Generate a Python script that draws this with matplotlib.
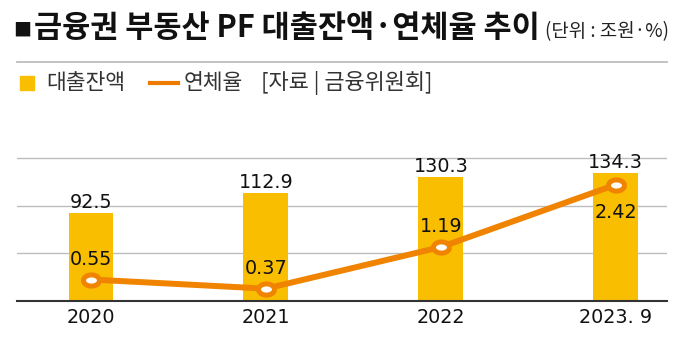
import matplotlib
matplotlib.use("Agg")
import matplotlib.pyplot as plt
import numpy as np
from matplotlib.path import Path
from matplotlib.lines import Line2D
from matplotlib.patches import Rectangle

# Data (loan balance in trillion won, delinquency rate in %)
categories = ["2020", "2021", "2022", "2023. 9"]
loan_balance = [92.5, 112.9, 130.3, 134.3]
delinquency_rate = [0.55, 0.37, 1.19, 2.42]

title_mark = "■"
title = "금융권 부동산 PF 대출잔액·연체율 추이"
unit_note = "(단위 : 조원·%)"
legend_bar = "대출잔액"
legend_line = "연체율"
source_note = "[자료 | 금융위원회]"

BAR_COLOR = "#F9BE00"
LINE_COLOR = "#F08300"
KR = ["Noto Sans CJK KR", "DejaVu Sans"]
NUM = ["DejaVu Sans", "Noto Sans CJK KR"]

plt.rcParams["font.family"] = NUM

W, H = 682, 350
fig = plt.figure(figsize=(W / 100, H / 100), dpi=100)
fig.patch.set_facecolor("white")


def fx(px):
    return px / W


def fy(py):
    return 1 - py / H


# Header: title, unit note, separator
fig.text(fx(13), fy(36), title_mark, family=KR, fontsize=13,
         color="#111111", ha="left", va="baseline")
fig.text(fx(34), fy(37), title, family=KR, fontsize=22, fontweight="bold",
         color="#111111", ha="left", va="baseline")
fig.text(fx(545), fy(37), unit_note, family=KR, fontsize=13.6,
         color="#222222", ha="left", va="baseline")
fig.add_artist(Line2D([fx(17), fx(667)], [fy(62), fy(62)], color="#bdbdbd",
                      lw=1.3, transform=fig.transFigure))

# Legend row
fig.add_artist(Rectangle((fx(20), fy(90)), fx(14), 14 / H, color=BAR_COLOR,
                         transform=fig.transFigure))
fig.text(fx(46), fy(83), legend_bar, family=KR, fontsize=15.5, color="#333333",
         ha="left", va="center")
fig.add_artist(Line2D([fx(150), fx(178)], [fy(83), fy(83)], color="#EE7A00",
                      lw=3, transform=fig.transFigure))
fig.text(fx(184), fy(83), legend_line, family=KR, fontsize=15.5,
         color="#333333", ha="left", va="center")
fig.text(fx(261), fy(83), source_note, family=KR, fontsize=15.8,
         color="#333333", ha="left", va="center")

# Main axes
ax = fig.add_axes([fx(17), fy(301), fx(650), 152.5 / H])
x = np.arange(len(categories))
ax.bar(x, loan_balance, width=0.257, color=BAR_COLOR, zorder=2)
ax.set_xlim(-0.423, 3.293)
ax.set_ylim(0, 160)
ax.set_yticks([50, 100, 150])
ax.yaxis.grid(True, color="#bdbdbd", lw=1.0)
ax.set_axisbelow(True)
for side in ["top", "left", "right"]:
    ax.spines[side].set_visible(False)
ax.spines["bottom"].set_color("#333333")
ax.spines["bottom"].set_linewidth(1.5)
ax.tick_params(axis="y", length=0, labelleft=False)
ax.set_xticks(x)
ax.set_xticklabels(categories)
ax.tick_params(axis="x", length=0, pad=5, labelsize=13.8, labelcolor="#111111")

for xi, v in zip(x, loan_balance):
    ax.annotate(f"{v:.1f}", (xi, v), xytext=(0, 3.6), textcoords="offset points",
                ha="center", va="baseline", fontsize=13.8, color="#111111",
                zorder=5)

# Delinquency rate line on a secondary scale
ax2 = ax.twinx()
ax2.set_ylim(0.126, 3.134)
ax2.axis("off")

t = np.linspace(0, 2 * np.pi, 60)
ellipse = Path(np.column_stack([np.cos(t), 0.7 * np.sin(t)]))
ax2.plot(x, delinquency_rate, color=LINE_COLOR, lw=4.3, marker=ellipse,
         markersize=11.5, markerfacecolor="white", markeredgecolor=LINE_COLOR,
         markeredgewidth=3.6, zorder=4, solid_capstyle="butt")

for i, (xi, v) in enumerate(zip(x, delinquency_rate)):
    below = i == len(delinquency_rate) - 1
    dy = -23.8 if below else 10.8
    ax2.annotate(f"{v:.2f}", (xi, v), xytext=(0, dy), textcoords="offset points",
                 ha="center", va="baseline", fontsize=13.8, color="#111111",
                 zorder=6)

fig.savefig("out.png", dpi=100, facecolor="white")
